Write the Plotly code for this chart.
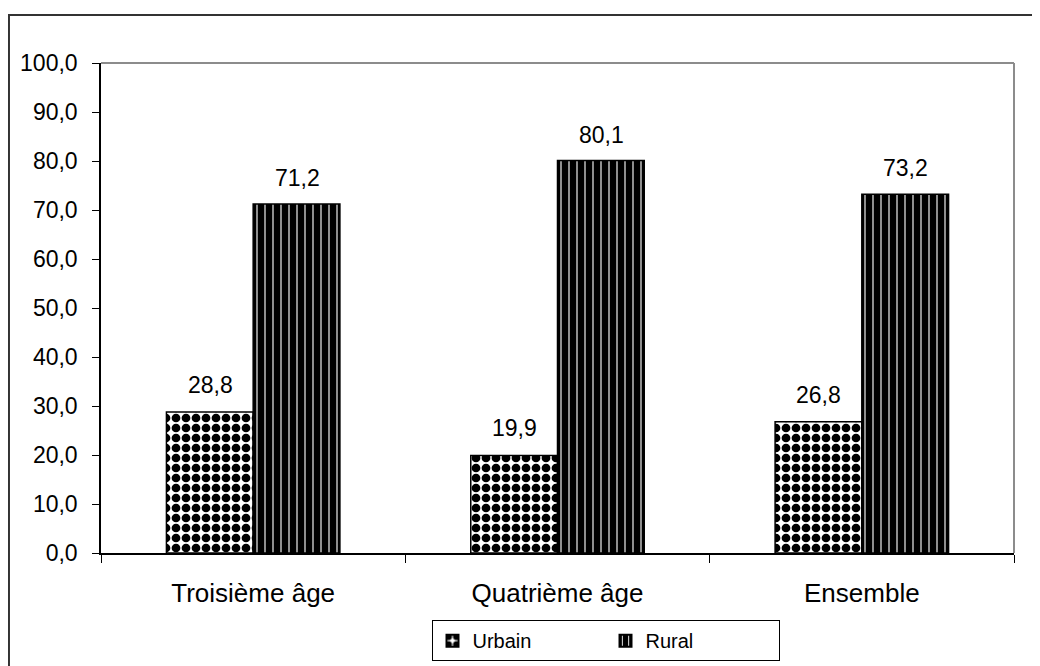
import plotly.graph_objects as go

categories = ["Troisième âge", "Quatrième âge", "Ensemble"]
urbain = [28.8, 19.9, 26.8]
rural = [71.2, 80.1, 73.2]
y_ticks = [0, 10, 20, 30, 40, 50, 60, 70, 80, 90, 100]

FONT = "Liberation Sans, Arial, sans-serif"


def fmt(v):
    return f"{v:.1f}".replace(".", ",")


fig = go.Figure()
fig.add_trace(go.Bar(
    name="Urbain", x=categories, y=urbain,
    marker=dict(color="white", line=dict(color="black", width=1.5),
                pattern=dict(shape=".", fgcolor="black", bgcolor="white",
                             size=10, solidity=0.6, fillmode="replace")),
))
fig.add_trace(go.Bar(
    name="Rural", x=categories, y=rural,
    marker=dict(color="black", line=dict(color="black", width=1.5),
                pattern=dict(shape="|", fgcolor="white", bgcolor="black",
                             size=8, solidity=0.14, fillmode="replace")),
))

# value labels above the bars (grouped offsets of half a bar width)
for cat, u, r in zip(categories, urbain, rural):
    fig.add_annotation(x=cat, y=u, text=fmt(u), showarrow=False, xshift=-43,
                       yanchor="middle", yshift=27, font=dict(size=23, family=FONT, color="black"))
    fig.add_annotation(x=cat, y=r, text=fmt(r), showarrow=False, xshift=44,
                       yanchor="middle", yshift=26, font=dict(size=23, family=FONT, color="black"))

fig.update_layout(
    width=1032, height=658,
    margin=dict(l=93, r=26, t=55, b=113, autoexpand=False),
    paper_bgcolor="white", plot_bgcolor="white",
    separators=", ",
    barmode="group", bargap=0.43, bargroupgap=0,
    font=dict(family=FONT, size=22, color="black"),
    showlegend=True,
    legend=dict(orientation="h", x=0.362, xanchor="left", y=-0.137, yanchor="top",
                bordercolor="black", borderwidth=1, bgcolor="white",
                font=dict(size=20, family=FONT), entrywidth=128,
                itemsizing="constant"),
    xaxis=dict(showline=True, linecolor="black", linewidth=1.5, automargin=False,
               ticks="outside", tickson="boundaries", ticklen=8, tickcolor="black",
               ticklabelstandoff=16,
               tickfont=dict(size=26, family=FONT), showgrid=False),
    yaxis=dict(range=[0, 100], tickvals=y_ticks, tickformat=".1f", automargin=False,
               showline=True, linecolor="black", linewidth=1.5,
               ticks="outside", ticklen=7, tickcolor="black",
               ticklabelstandoff=10,
               tickfont=dict(size=23, family=FONT), showgrid=False, zeroline=False),
)

# gray top and right border of plot area
fig.add_shape(type="line", xref="x domain", yref="y domain", x0=0, x1=1, y0=1, y1=1,
              line=dict(color="#8c8c8c", width=2))
fig.add_shape(type="line", xref="x domain", yref="y domain", x0=1, x1=1, y0=0, y1=1,
              line=dict(color="#8c8c8c", width=2))
# outer chart frame
fig.add_shape(type="rect", xref="paper", yref="paper", x0=-0.1008, x1=1.04, y0=-0.25, y1=1.098,
              line=dict(color="#333333", width=2), layer="below")

fig.write_html("out.html")
